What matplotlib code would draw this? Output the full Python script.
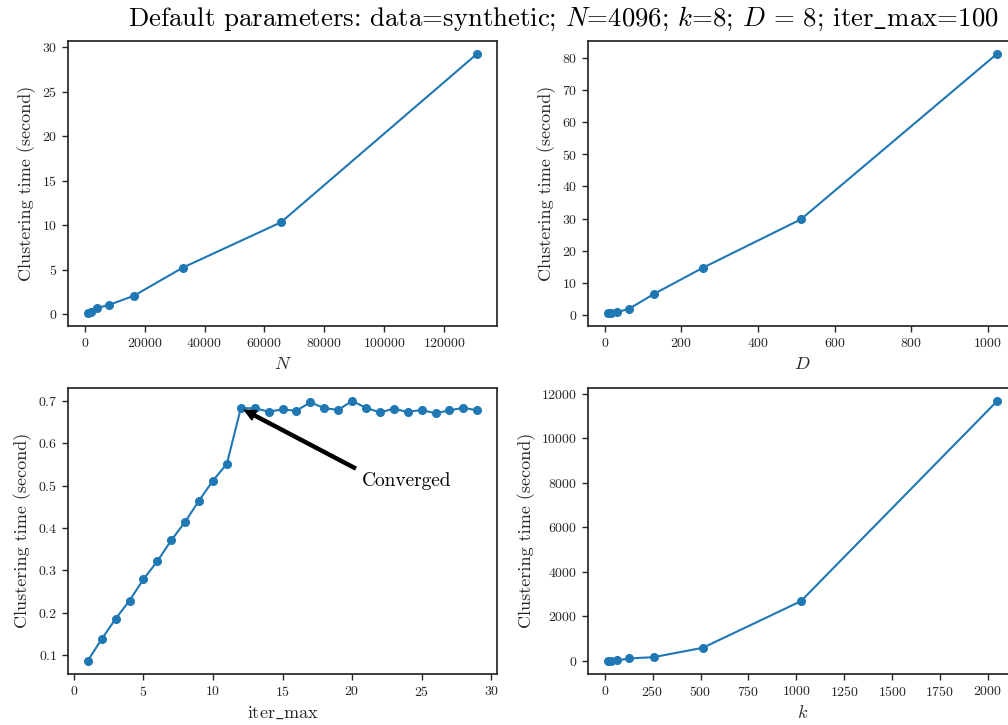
import matplotlib
matplotlib.use("Agg")
import matplotlib.pyplot as plt

# timings for the k-means benchmark, one sweep per panel
n_values = [1024, 2048, 4096, 8192, 16384, 32768, 65536, 131072]
n_times = [0.08, 0.26, 0.67, 1.04, 2.05, 5.22, 10.31, 29.26]

d_values = [8, 16, 32, 64, 128, 256, 512, 1024]
d_times = [0.70, 0.62, 0.93, 2.06, 6.6, 14.75, 29.8, 81.2]

iter_values = list(range(1, 30))
iter_times = [0.087, 0.138, 0.186, 0.229, 0.279, 0.322, 0.371, 0.415, 0.465,
              0.512, 0.552, 0.683, 0.683, 0.675, 0.680, 0.677, 0.697, 0.683,
              0.679, 0.700, 0.684, 0.673, 0.682, 0.674, 0.679, 0.671, 0.678,
              0.684, 0.678]

k_values = [16, 32, 64, 128, 256, 512, 1024, 2048]
k_times = [5, 10, 15, 105, 165, 584, 2680, 11670]

converged_at = 12

plt.rcParams.update({
    "font.family": "serif",
    "font.serif": ["cmr10"],
    "mathtext.fontset": "cm",
    "axes.formatter.use_mathtext": True,
    "axes.unicode_minus": False,
    "text.color": ".15",
    "axes.labelcolor": ".15",
    "axes.edgecolor": ".15",
    "axes.linewidth": 1.25,
    "xtick.color": ".15",
    "ytick.color": ".15",
    "xtick.labelsize": 10,
    "ytick.labelsize": 10,
    "xtick.major.size": 4.5,
    "ytick.major.size": 4.5,
    "xtick.major.width": 1.0,
    "ytick.major.width": 1.0,
    "axes.labelsize": 13,
})

fig, axes = plt.subplots(2, 2, figsize=(10.08, 7.25), dpi=100)
fig.subplots_adjust(left=0.0678, right=1.0086, bottom=0.0708, top=0.9439,
                    wspace=0.2138, hspace=0.216)

panels = [
    (axes[0, 0], n_values, n_times, r"$N$"),
    (axes[0, 1], d_values, d_times, r"$D$"),
    (axes[1, 0], iter_values, iter_times, r"iter$\_$max"),
    (axes[1, 1], k_values, k_times, r"$k$"),
]

for ax, xs, ys, xlabel in panels:
    ax.plot(xs, ys, "-o", color="#1f77b4", lw=1.5, ms=5.5)
    ax.set_xlabel(xlabel)
    ax.set_ylabel("Clustering time (second)")
    ax.tick_params(direction="out", top=False, right=False)

# mark where the iterations stop changing the result
ax = axes[1, 0]
ax.annotate("Converged",
            xy=(converged_at, iter_times[converged_at - 1]),
            xytext=(20.7, 0.50), fontsize=14, color="black",
            arrowprops=dict(facecolor="black", edgecolor="black",
                            shrink=0.03, width=2.2, headwidth=7.5,
                            headlength=8))

fig.suptitle(r"Default parameters: data=synthetic; $N$=4096; $k$=8; "
             r"$D$ = 8; iter$\_$max=100", fontsize=19.3, x=0.559, y=0.9641,
             va="baseline", color="black")

fig.savefig("out.png", dpi=100)
